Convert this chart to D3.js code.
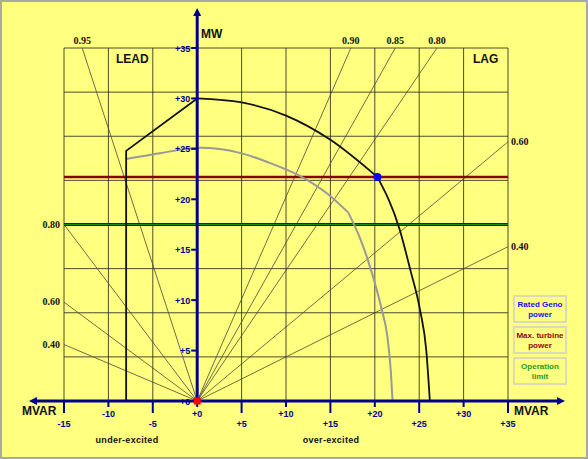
<!DOCTYPE html>
<html>
<head>
<meta charset="utf-8">
<script src="https://cdn.jsdelivr.net/npm/d3@7"></script>
<style>
  html, body { margin: 0; padding: 0; background: #fff; }
  svg { display: block; }
</style>
</head>
<body>
<svg id="canvas"></svg>
<script>
const width = 588;
const height = 459;

// axis ticks
const mvarTicks = [-15, -10, -5, 0, 5, 10, 15, 20, 25, 30, 35];
const mwTicks = [0, 5, 10, 15, 20, 25, 30, 35];
const gridRows = 8; // square cells: horizontal grid doesn't follow MW ticks

// power factor lines (from origin to the edge of the grid)
const pfLabels = ['0.95', '0.80', '0.60', '0.40', '0.90', '0.85', '0.80', '0.60', '0.40'];
const pfEndQ = [-12.95, -15, -15, -15, 17.3, 22.3, 27.0, 35, 35];
const pfEndP = [35, 17.5, 9.8, 5.6, 35, 35, 35, 25.7, 15.3];

// capability outline
const leadQ = [-8, -8, 0];
const leadP = [0, 24.8, 30];
const statorQ = [0, 5, 10, 15, 20.3];
const statorP = [30, 29.6, 28.3, 25.9, 22.2];
const rotorQ = [20.3, 22.8, 24.0, 25.1, 25.8, 26.2];
const rotorP = [22.2, 17.0, 13.0, 9.0, 5.0, 0];

// grey operating curve
const greyUpperQ = [-8, -4, 0.3, 4.8, 7.9, 11.6, 14.6, 17.0];
const greyUpperP = [24.0, 24.6, 25.1, 24.6, 23.7, 22.3, 20.6, 18.7];
const greyLowerQ = [17.0, 18.4, 19.5, 20.8, 21.4, 21.8, 22.0];
const greyLowerP = [18.7, 16.0, 13.2, 9.0, 6.5, 3.0, 0];

const maxTurbineMW = 22.2;
const operationLimitMW = 17.5;
const ratedQ = 20.3;
const ratedP = 22.2;

const legendText = [['Rated Geno', 'power'], ['Max. turbine', 'power'], ['Operation', 'limit']];
const legendColors = ['#1010ff', '#990000', '#1f9a1f'];

const navy = '#00008b';

const svg = d3.select('#canvas').attr('width', width).attr('height', height);

const x = d3.scaleLinear().domain([-15, 35]).range([64, 508]);
const y = d3.scaleLinear().domain([0, 35]).range([401, 48]);

// background and frame
svg.append('rect')
	.attr('x', 1).attr('y', 1)
	.attr('width', width - 2).attr('height', height - 2)
	.attr('fill', '#ffff80')
	.attr('stroke', '#a8a8a8')
	.attr('stroke-width', 2);

// grid
const grid = svg.append('g')
	.attr('stroke', '#2e2e20')
	.attr('stroke-opacity', 0.85)
	.attr('stroke-width', 1);

grid.selectAll('line.v')
	.data(mvarTicks)
	.enter()
	.append('line')
	.attr('class', 'v')
	.attr('x1', (d) => x(d)).attr('x2', (d) => x(d))
	.attr('y1', y(0)).attr('y2', y(35));

grid.selectAll('line.h')
	.data(d3.range(gridRows + 1))
	.enter()
	.append('line')
	.attr('class', 'h')
	.attr('x1', x(-15)).attr('x2', x(35))
	.attr('y1', (i) => y((35 * i) / gridRows))
	.attr('y2', (i) => y((35 * i) / gridRows));

// power factor lines
svg.append('g')
	.selectAll('line')
	.data(pfLabels)
	.enter()
	.append('line')
	.attr('x1', x(0)).attr('y1', y(0))
	.attr('x2', (d, i) => x(pfEndQ[i]))
	.attr('y2', (d, i) => y(pfEndP[i]))
	.attr('stroke', '#4a4a38')
	.attr('stroke-width', 0.8);

svg.append('g')
	.selectAll('text')
	.data(pfLabels)
	.enter()
	.append('text')
	.text((d) => d)
	.attr('x', (d, i) => {
		if (pfEndP[i] === 35) return x(pfEndQ[i]);
		return pfEndQ[i] < 0 ? x(pfEndQ[i]) - 4 : x(pfEndQ[i]) + 3;
	})
	.attr('y', (d, i) => (pfEndP[i] === 35 ? y(35) - 4 : y(pfEndP[i]) + 3))
	.attr('text-anchor', (d, i) => {
		if (pfEndP[i] === 35) return 'middle';
		return pfEndQ[i] < 0 ? 'end' : 'start';
	})
	.attr('font-family', 'Liberation Serif, serif')
	.attr('font-weight', 'bold')
	.attr('font-size', '10px')
	.attr('fill', '#111');

// horizontal limit lines
svg.append('line')
	.attr('x1', x(-15)).attr('x2', x(35))
	.attr('y1', y(operationLimitMW)).attr('y2', y(operationLimitMW))
	.attr('stroke', '#1a2a1a')
	.attr('stroke-width', 3);
svg.append('line')
	.attr('x1', x(-15)).attr('x2', x(35))
	.attr('y1', y(operationLimitMW)).attr('y2', y(operationLimitMW))
	.attr('stroke', '#158a15')
	.attr('stroke-width', 1.2);

svg.append('line')
	.attr('x1', x(-15)).attr('x2', x(35))
	.attr('y1', y(maxTurbineMW)).attr('y2', y(maxTurbineMW))
	.attr('stroke', '#8b0000')
	.attr('stroke-width', 2.5);

// curves
const toPts = (qs, ps) => qs.map((q, i) => [q, ps[i]]);
const linear = d3.line().x((d) => x(d[0])).y((d) => y(d[1]));
const smooth = d3.line().x((d) => x(d[0])).y((d) => y(d[1])).curve(d3.curveMonotoneX);

svg.append('path')
	.attr('d', smooth(toPts(greyUpperQ, greyUpperP)))
	.attr('fill', 'none').attr('stroke', '#999').attr('stroke-width', 2);
svg.append('path')
	.attr('d', smooth(toPts(greyLowerQ, greyLowerP)))
	.attr('fill', 'none').attr('stroke', '#999').attr('stroke-width', 2);

svg.append('path')
	.attr('d', linear(toPts(leadQ, leadP)))
	.attr('fill', 'none').attr('stroke', '#111').attr('stroke-width', 1.8);
svg.append('path')
	.attr('d', smooth(toPts(statorQ, statorP)))
	.attr('fill', 'none').attr('stroke', '#111').attr('stroke-width', 1.8);
svg.append('path')
	.attr('d', smooth(toPts(rotorQ, rotorP)))
	.attr('fill', 'none').attr('stroke', '#111').attr('stroke-width', 1.8);

// axes
const axes = svg.append('g').attr('stroke', navy).attr('fill', navy);

axes.append('line')
	.attr('x1', 36).attr('x2', 558)
	.attr('y1', y(0)).attr('y2', y(0))
	.attr('stroke-width', 3);
axes.append('path')
	.attr('d', `M29,${y(0)} L37,${y(0) - 4} L37,${y(0) + 4} Z`)
	.attr('stroke', 'none');
axes.append('path')
	.attr('d', `M565,${y(0)} L557,${y(0) - 4} L557,${y(0) + 4} Z`)
	.attr('stroke', 'none');

axes.append('line')
	.attr('x1', x(0)).attr('x2', x(0))
	.attr('y1', y(0)).attr('y2', 15)
	.attr('stroke-width', 3);
axes.append('path')
	.attr('d', `M${x(0)},8 L${x(0) - 4},16 L${x(0) + 4},16 Z`)
	.attr('stroke', 'none');

// MW ticks
axes.selectAll('line.yt')
	.data(mwTicks)
	.enter()
	.append('line')
	.attr('class', 'yt')
	.attr('x1', x(0) - 6).attr('x2', x(0))
	.attr('y1', (d) => y(d)).attr('y2', (d) => y(d))
	.attr('stroke-width', 2);

svg.append('g')
	.selectAll('text')
	.data(mwTicks)
	.enter()
	.append('text')
	.text((d) => '+' + d)
	.attr('x', x(0) - 7)
	.attr('y', (d) => y(d) + 3.5)
	.attr('text-anchor', 'end')
	.attr('font-family', 'Liberation Sans, Arial, sans-serif')
	.attr('font-weight', 'bold')
	.attr('font-size', '9px')
	.attr('fill', navy);

// MVAR ticks, odd ones reach down to a second row of labels
const isLow = (d) => Math.abs(d / 5) % 2 === 1;

axes.selectAll('line.xt')
	.data(mvarTicks)
	.enter()
	.append('line')
	.attr('class', 'xt')
	.attr('x1', (d) => x(d)).attr('x2', (d) => x(d))
	.attr('y1', y(0)).attr('y2', (d) => (isLow(d) ? y(0) + 12 : y(0) + 6))
	.attr('stroke-width', 2);

svg.append('g')
	.selectAll('text')
	.data(mvarTicks)
	.enter()
	.append('text')
	.text((d) => (d >= 0 ? '+' + d : '' + d))
	.attr('x', (d) => x(d))
	.attr('y', (d) => (isLow(d) ? 427 : 417))
	.attr('text-anchor', 'middle')
	.attr('font-family', 'Liberation Sans, Arial, sans-serif')
	.attr('font-weight', 'bold')
	.attr('font-size', '9px')
	.attr('fill', navy);

// origin and rated point
svg.append('rect')
	.attr('x', x(0) - 3.5).attr('y', y(0) - 3.5)
	.attr('width', 7).attr('height', 7)
	.attr('fill', '#ff0000');

svg.append('circle')
	.attr('cx', x(ratedQ)).attr('cy', y(ratedP))
	.attr('r', 4)
	.attr('fill', '#0000ff');

// titles
const label = (txt, tx, ty, size, anchor) =>
	svg.append('text')
		.text(txt)
		.attr('x', tx).attr('y', ty)
		.attr('text-anchor', anchor || 'start')
		.attr('font-family', 'Liberation Sans, Arial, sans-serif')
		.attr('font-weight', 'bold')
		.attr('font-size', size)
		.attr('fill', '#111');

label('MW', 201, 38, '12px');
label('LEAD', 116, 63, '12px');
label('LAG', 473, 63, '12px');
label('MVAR', 22, 415, '12px');
label('MVAR', 514, 415, '12px');
label('under-excited', 127, 443, '9px', 'middle').attr('letter-spacing', '0.3px');
label('over-excited', 331, 443, '9px', 'middle').attr('letter-spacing', '0.3px');

// legend boxes
const legend = svg.append('g')
	.selectAll('g')
	.data(legendText)
	.enter()
	.append('g')
	.attr('transform', (d, i) => `translate(514,${296 + i * 31})`);

legend.append('rect')
	.attr('width', 52).attr('height', 26)
	.attr('fill', '#ffff80')
	.attr('stroke', '#cfcfcf')
	.attr('stroke-width', 1.5);

legend.each(function (lines, i) {
	d3.select(this)
		.selectAll('text')
		.data(lines)
		.enter()
		.append('text')
		.text((d) => d)
		.attr('x', 26)
		.attr('y', (d, j) => 10.5 + j * 10)
		.attr('text-anchor', 'middle')
		.attr('font-family', 'Liberation Sans, Arial, sans-serif')
		.attr('font-weight', 'bold')
		.attr('font-size', '8px')
		.attr('fill', legendColors[i]);
});
</script>
</body>
</html>
